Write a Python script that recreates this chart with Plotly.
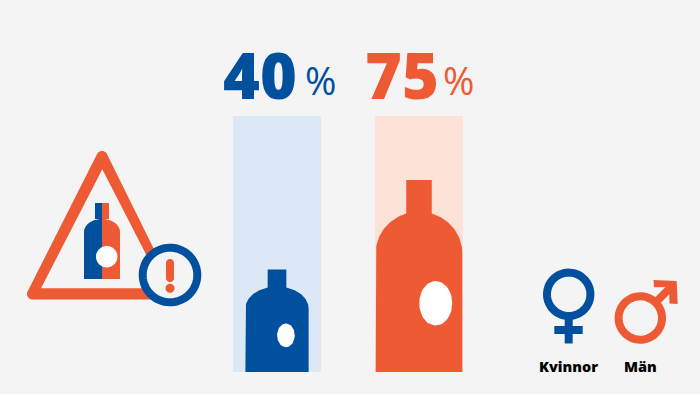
import numpy as np
import plotly.graph_objects as go

categories = ["Kvinnor", "Män"]
values = [40, 75]
full_scale = [100, 100]
unit = "%"

W, H = 700, 394
BG = "#f4f4f4"
BLUE = "#00509e"
ORANGE = "#ee5a34"
LIGHT = ["#dce8f6", "#fde2d7"]
DARK = [BLUE, ORANGE]
SERIF = "Open Sans"

# axes: category index -> px, value -> px
X0, DX = 277.0, 142.0
Y0, PPU = 372.0, 2.56
xr = [-X0 / DX, (W - X0) / DX]
yr = [(Y0 - H) / PPU, Y0 / PPU]


def arc(cx, cy, rx, ry, a0, a1, n=40):
    t = np.radians(np.linspace(a0, a1, n))
    return cx + rx * np.cos(t), cy + ry * np.sin(t)


def bottle_outline(idx, value):
    """Outline in data coordinates; height is the value, width grows with sqrt(value)."""
    half = 5.0 * np.sqrt(value) / DX          # body half width, category units
    neck = 0.295 * half
    shoulder = value * 0.825                   # where the neck meets the body
    side = value * 0.62                        # where the rounded shoulder reaches the side
    a = np.degrees(np.arcsin(neck / half))
    top = (shoulder - side) / np.cos(np.radians(a))
    ax, ay = arc(0, side, half, top, 180, 90 + a)
    bx, by = arc(0, side, half, top, 90 - a, 0)
    xs = [-half, *ax, -neck, -neck, neck, neck, *bx, half]
    ys = [0, *ay, shoulder, value, value, shoulder, *by, 0]
    xs = np.array(xs) + idx
    return xs, np.array(ys)


def label_ellipse(idx, value):
    rx = value * 0.22 / DX
    ry = value * 0.116
    return arc(idx + value * 0.223 / DX, value * 0.358, rx, ry, 0, 360, 60)


fig = go.Figure()
fig.add_trace(go.Bar(x=[0, 1], y=full_scale, width=88 / DX, marker=dict(color=LIGHT, line_width=0),
                     hoverinfo="skip", showlegend=False))
for i, v in enumerate(values):
    xs, ys = bottle_outline(i, v)
    fig.add_trace(go.Scatter(x=xs, y=ys, mode="lines", fill="toself", fillcolor=DARK[i],
                             line=dict(width=0, color=DARK[i]), hoverinfo="skip", showlegend=False))
    ex, ey = label_ellipse(i, v)
    fig.add_trace(go.Scatter(x=ex, y=ey, mode="lines", fill="toself", fillcolor="white",
                             line=dict(width=0, color="white"), hoverinfo="skip", showlegend=False))


def px(x, y):
    return x / W, 1 - y / H


def path(pts, close=True):
    s = ""
    for j, (x, y) in enumerate(pts):
        a, b = px(x, y)
        s += ("M" if j == 0 else "L") + f"{a:.5f},{b:.5f} "
    return s + ("Z" if close else "")


def shp(pts, fill=None, line=None, lw=0, close=True):
    return dict(type="path", xref="paper", yref="paper", layer="above", path=path(pts, close),
                fillcolor=fill if fill else "rgba(0,0,0,0)",
                line=dict(color=line if line else "rgba(0,0,0,0)", width=lw))


def circle_pts(cx, cy, r, ry=None):
    x, y = arc(cx, cy, r, ry if ry else r, 0, 360, 72)
    return list(zip(x, y))


def rounded_triangle(verts, r):
    """Polygon offset outward by r with round corners (screen coordinates)."""
    pts = []
    n = len(verts)
    for k in range(n):
        vx, vy = verts[k]
        px0, py0 = verts[k - 1]
        nx0, ny0 = verts[(k + 1) % n]
        a0 = np.degrees(np.arctan2(-(vx - px0), (vy - py0)))
        a1 = np.degrees(np.arctan2(-(nx0 - vx), (ny0 - vy)))
        if a1 < a0:
            a1 += 360
        x, y = arc(vx, vy, r, r, a0, a1, 12)
        pts += list(zip(x, y))
    return pts


def capsule(cx, y0, y1, r):
    ux, uy = arc(cx, y0, r, r, 180, 360, 12)
    lx_, ly_ = arc(cx, y1, r, r, 0, 180, 12)
    return list(zip(ux, uy)) + list(zip(lx_, ly_))


shapes = []
# warning triangle (clockwise in screen coordinates)
tri = [(102, 156.5), (170, 294), (32.5, 294)]
shapes.append(shp(rounded_triangle(tri, 5.5), fill=ORANGE))
shapes.append(shp([(102.3, 169.3), (163.5, 288.3), (41, 288.3)], fill=BG))
# two-coloured mini bottle
lx, ly = arc(102, 232, 18, 13, 180, 270, 16)
rx, ry = arc(102, 232, 18, 13, 270, 360, 16)
shapes.append(shp([(84, 279), *zip(lx, ly), (95, 219), (95, 203), (102, 203), (102, 279)], fill=BLUE))
shapes.append(shp([(102, 279), (102, 203), (109, 203), (109, 219), *zip(rx, ry), (120, 279)], fill=ORANGE))
shapes.append(shp(circle_pts(106.7, 256.7, 10.7), fill="white"))
# alert ring
shapes.append(shp(circle_pts(170, 275, 27.3), fill=BG, line=BLUE, lw=8))
shapes.append(shp(capsule(170, 263, 278, 4), fill=ORANGE))
shapes.append(shp(circle_pts(170, 288.3, 4.5), fill=ORANGE))
# venus
shapes.append(shp(circle_pts(568.7, 294.3, 21.7), line=BLUE, lw=8))
shapes.append(shp([(568.7, 316), (568.7, 343.5)], line=BLUE, lw=8, close=False))
shapes.append(shp([(554.3, 330), (582.7, 330)], line=BLUE, lw=8, close=False))
# mars
shapes.append(shp(circle_pts(640.3, 318, 21.7), line=ORANGE, lw=8))
shapes.append(shp([(655.5, 302.5), (672, 286)], line=ORANGE, lw=8, close=False))
shapes.append(shp([(653.5, 280), (676.7, 281), (677.7, 304), (669.5, 303.5), (669, 287), (654, 287.3)], fill=ORANGE))


def note(text, x, y, size, color, weight=400, xanchor="left"):
    a, b = px(x, y)
    return dict(text=text, x=a, y=b, xref="paper", yref="paper", xanchor=xanchor, yanchor="middle",
                showarrow=False, font=dict(family=SERIF, size=size, color=color, weight=weight),
                borderpad=0, borderwidth=0)


anns = [
    note(str(values[0]), 259.5, 74, 63, BLUE, 800, "center"),
    note(unit, 320.5, 80.5, 38, BLUE, 400, "center"),
    note(str(values[1]), 402, 74, 63, ORANGE, 800, "center"),
    note(unit, 458.5, 80.5, 38, ORANGE, 400, "center"),
    note(categories[0], 568.7, 366, 14.5, "black", 800, "center"),
    note(categories[1], 640.5, 366, 14.5, "black", 800, "center"),
]

fig.update_layout(
    width=W, height=H, autosize=False, margin=dict(l=0, r=0, t=0, b=0),
    paper_bgcolor=BG, plot_bgcolor=BG, showlegend=False,
    xaxis=dict(range=xr, visible=False, fixedrange=True),
    yaxis=dict(range=yr, visible=False, fixedrange=True),
    shapes=shapes, annotations=anns,
)
fig.write_html("out.html", config={"displayModeBar": False},
               post_script="document.body.style.margin='0';document.body.style.overflow='hidden';"
                           f"document.body.style.background='{BG}';")
